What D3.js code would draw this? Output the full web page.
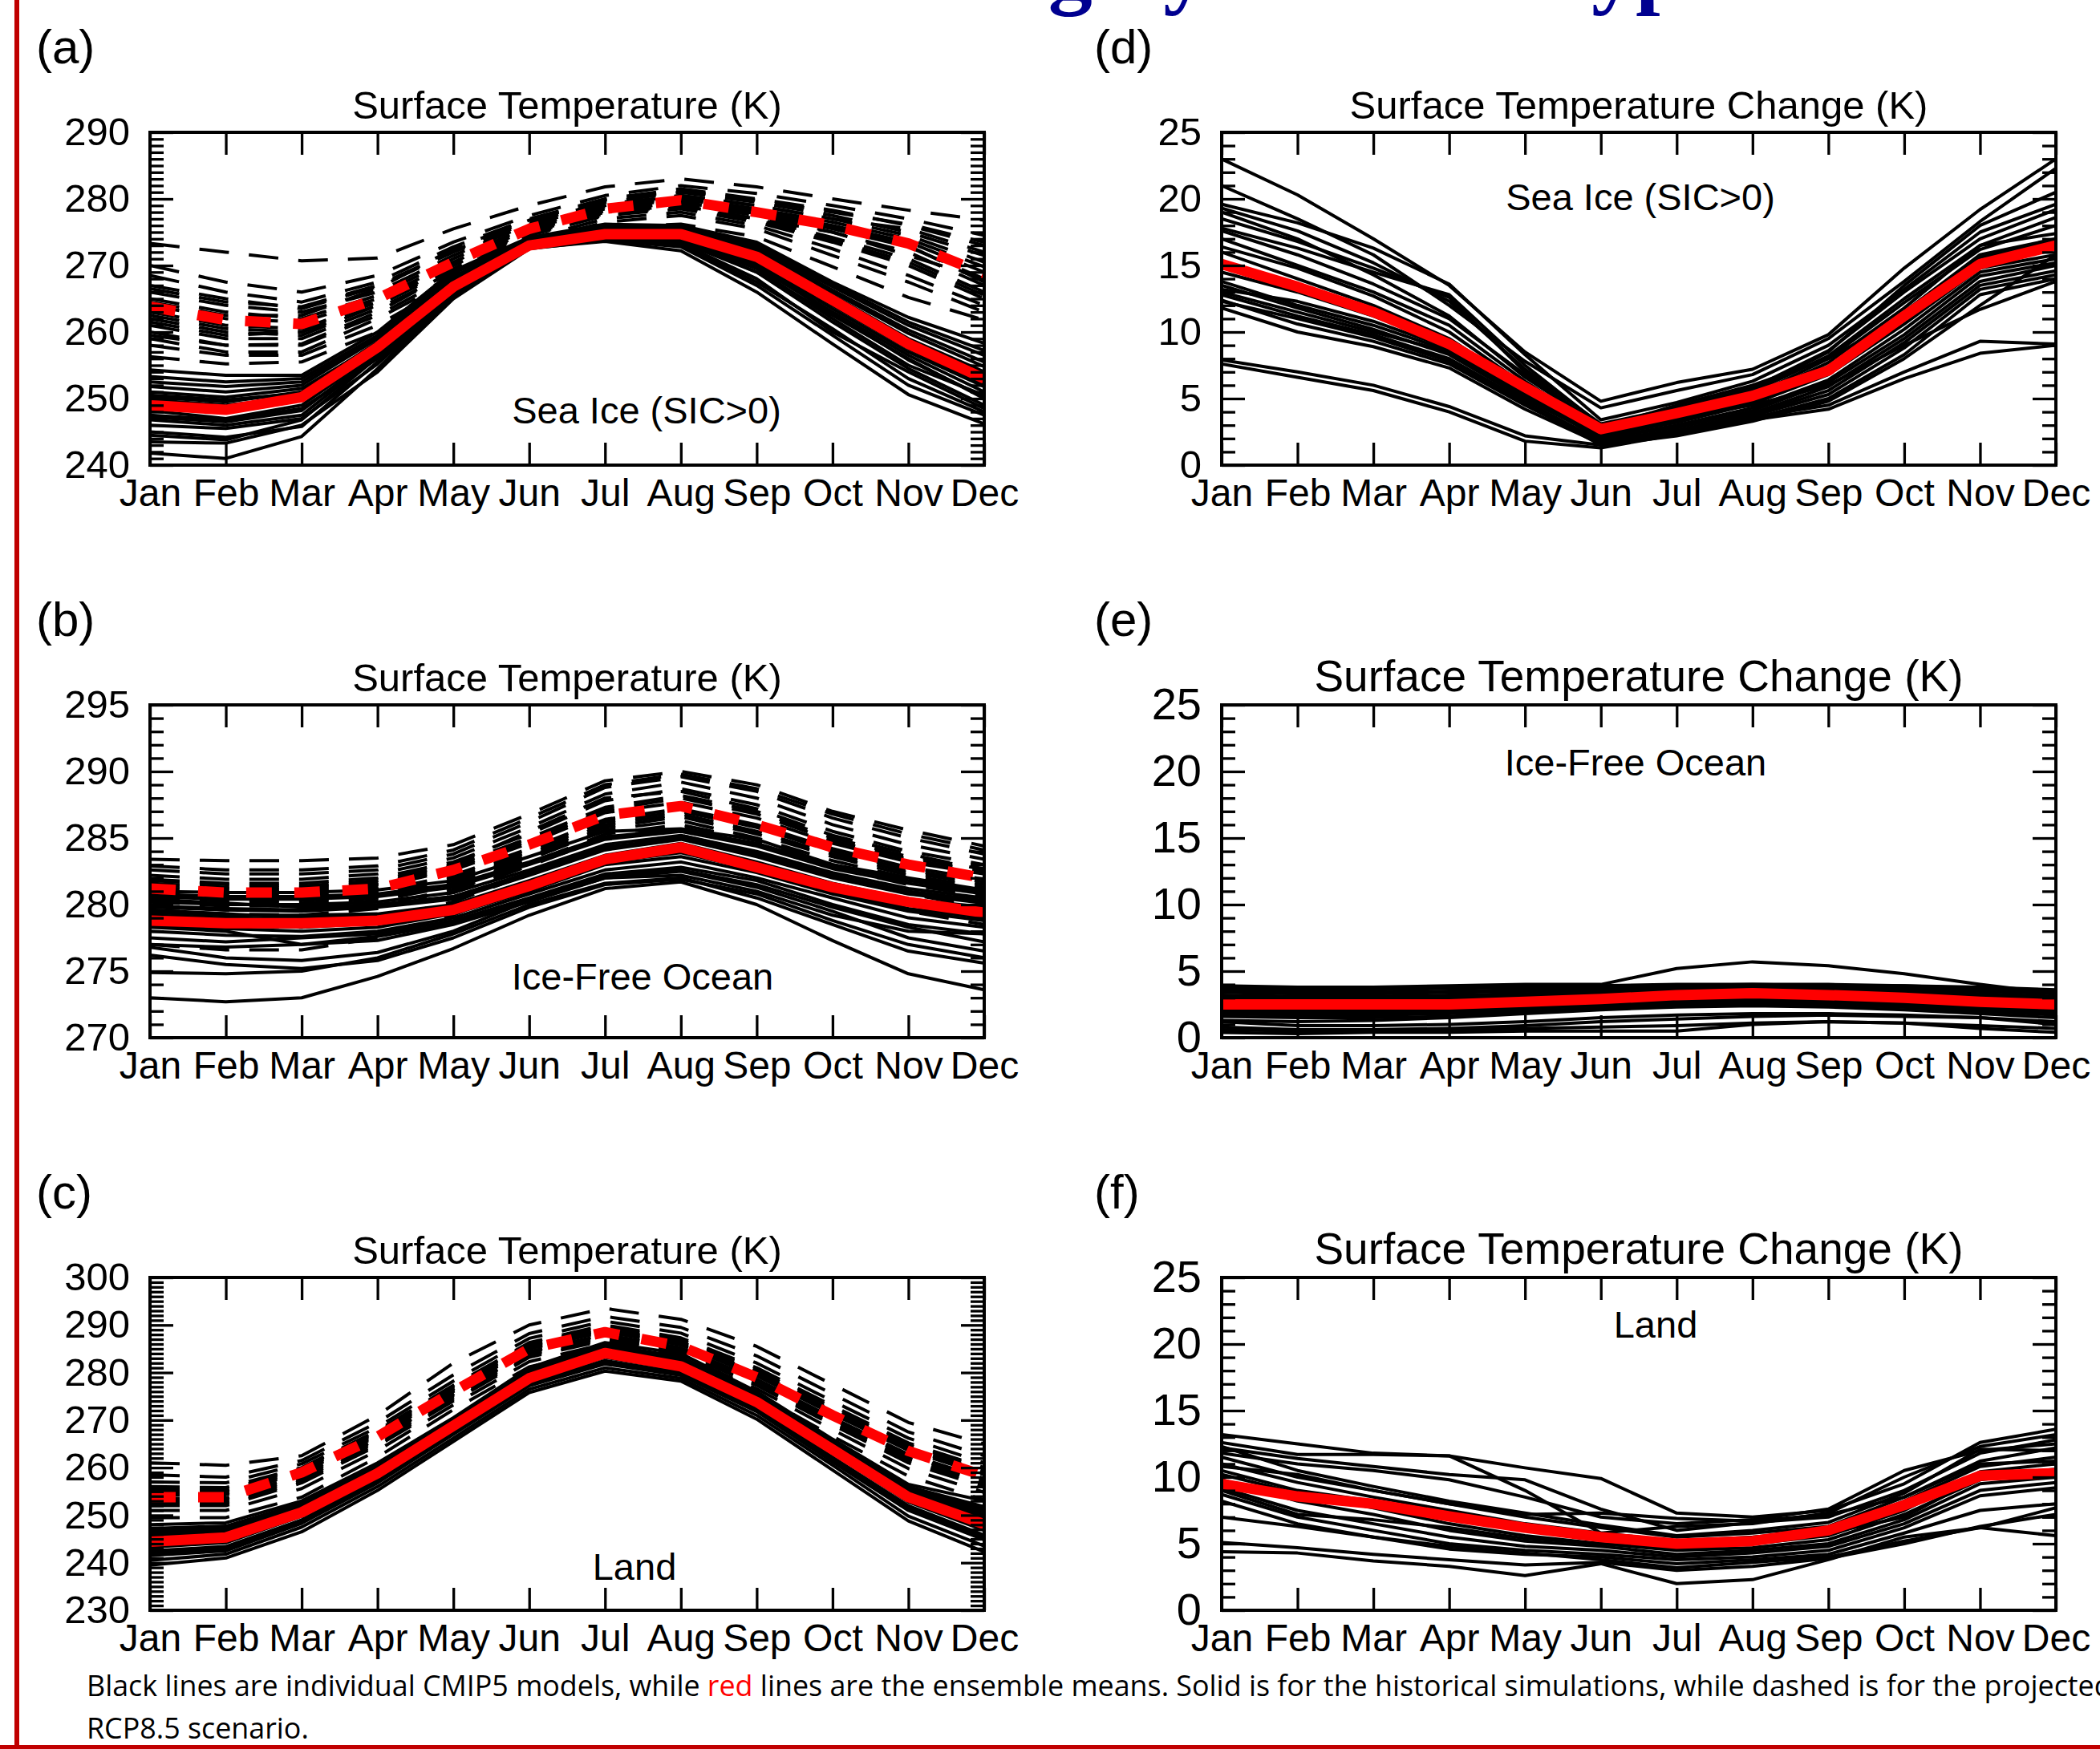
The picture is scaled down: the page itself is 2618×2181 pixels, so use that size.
<!DOCTYPE html>
<html>
<head>
<meta charset="utf-8">
<script src="https://cdn.jsdelivr.net/npm/d3@7"></script>
<style>
  html, body { margin: 0; padding: 0; background: #fff; overflow: hidden; }
  svg { display: block; }
  svg text { font-family: "Liberation Sans", Arial, sans-serif; }
</style>
</head>
<body>
<svg id="fig" width="2618" height="2181"></svg>
<script>
const months = ["Jan","Feb","Mar","Apr","May","Jun","Jul","Aug","Sep","Oct","Nov","Dec"];

// (a) sea ice, surface temperature (K)
const seaIceHist = [
  [241.8,241.0,244.3,254.5,265.5,272.6,273.6,272.2,266.0,258.2,250.6,246.2],
  [243.5,243.3,246.0,254.0,265.0,272.5,273.8,272.8,267.0,259.5,252.0,247.5],
  [245.0,244.2,245.8,255.5,266.0,272.8,274.0,273.3,268.0,260.0,254.0,248.5],
  [246.0,245.5,247.0,255.2,265.5,272.7,274.3,273.8,269.0,261.5,254.5,249.0],
  [246.8,246.0,247.5,256.5,266.2,273.0,274.5,274.0,269.5,262.0,255.0,250.5],
  [247.5,246.8,248.5,256.0,266.5,273.2,274.6,274.4,270.2,263.0,256.5,251.0],
  [248.2,247.0,249.0,257.0,267.0,273.3,274.8,274.5,270.5,263.5,257.0,251.8],
  [248.8,248.0,249.8,257.5,266.8,273.1,275.0,274.8,271.0,264.5,258.0,252.5],
  [249.5,248.8,250.5,258.0,267.3,273.4,275.2,275.0,271.5,265.0,258.5,253.5],
  [250.2,249.5,251.0,258.5,267.5,273.5,275.3,275.2,272.0,265.5,259.0,254.0],
  [251.0,250.2,251.5,258.2,267.8,273.6,275.5,275.3,272.3,266.0,259.8,254.8],
  [251.8,251.0,252.0,259.0,268.0,273.7,275.6,275.5,272.5,266.3,260.3,255.5],
  [252.5,251.8,252.5,259.3,268.3,273.8,275.8,275.6,272.8,266.8,261.0,256.5],
  [253.3,252.5,253.0,259.5,268.8,274.0,276.0,275.8,273.2,267.2,261.5,257.2],
  [254.3,253.5,253.5,260.0,269.2,274.2,276.2,276.0,273.5,267.5,262.2,258.3],
  [250.5,249.8,250.8,257.8,266.5,272.8,274.2,273.5,269.0,262.5,256.0,250.0],
  [244.5,243.8,246.8,256.2,266.2,273.0,274.4,273.0,267.5,260.5,253.0,248.0],
  [247.2,246.5,248.2,256.8,266.8,273.2,274.7,274.2,269.8,262.8,255.8,250.2],
  [249.8,249.0,250.2,257.2,267.0,273.3,275.0,274.6,270.8,264.0,257.5,252.0]
];
const seaIceHistMean = [249.0,248.3,250.2,257.7,266.8,273.0,274.7,274.7,271.3,264.8,258.2,253.0];
const seaIceRcp = [
  [273.3,272.0,270.7,271.1,275.5,279.0,281.8,283.0,281.8,280.0,278.3,276.8],
  [270.0,267.5,266.0,268.5,273.5,277.5,280.5,282.0,280.8,279.0,277.0,274.5],
  [268.5,266.0,264.5,267.5,272.8,277.0,280.0,281.5,280.0,278.3,276.0,273.0],
  [267.0,265.0,263.5,266.8,272.0,276.5,279.5,281.0,279.5,277.5,275.0,271.5],
  [266.0,264.0,263.0,266.0,271.5,276.2,279.0,280.5,279.0,277.0,274.5,270.5],
  [265.0,263.0,262.0,265.5,271.0,275.8,278.8,280.2,278.5,276.5,274.0,269.8],
  [264.0,262.0,261.5,265.0,270.5,275.5,278.5,280.0,278.2,276.0,273.5,269.0],
  [263.0,261.0,260.5,264.5,270.0,275.2,278.2,279.5,277.8,275.5,272.8,268.0],
  [262.0,260.0,259.5,264.0,269.5,275.0,278.0,279.2,277.5,275.0,272.0,267.0],
  [261.0,259.0,259.0,263.5,269.0,274.8,277.8,279.0,277.0,274.2,271.0,266.0],
  [260.0,258.0,258.0,262.5,268.5,274.5,277.5,278.5,276.5,273.5,270.0,265.0],
  [259.0,257.0,257.0,262.0,268.0,274.0,277.0,278.0,276.0,272.5,268.5,264.0],
  [258.0,256.5,256.5,261.0,267.5,273.5,276.5,277.5,275.5,271.5,267.5,263.0],
  [256.3,255.2,255.5,260.0,266.8,272.8,275.8,276.2,274.3,269.8,265.2,261.8],
  [264.5,262.5,262.5,266.5,272.5,276.8,279.2,280.5,279.0,277.0,275.5,272.0],
  [261.5,259.5,260.0,264.0,270.0,275.0,278.0,279.0,277.0,275.0,271.5,268.0],
  [266.5,264.5,263.8,267.0,272.2,276.8,279.8,281.2,279.8,278.0,276.2,273.5],
  [262.5,260.5,260.0,264.8,270.2,275.4,278.4,279.8,278.0,275.8,273.0,267.5],
  [259.5,258.0,258.2,263.0,269.2,274.6,277.6,278.8,276.8,273.8,270.5,265.5]
];
const seaIceRcpMean = [263.8,261.8,261.2,265.0,270.5,275.5,278.5,279.8,278.0,276.0,273.3,268.8];

// (b) ice-free ocean, surface temperature (K)
const oceanHist = [
  [273.0,272.7,273.0,274.6,276.7,279.2,281.2,281.7,280.0,277.3,274.8,273.6],
  [274.9,274.8,275.0,276.0,277.8,280.0,281.6,282.0,280.5,278.5,276.5,275.6],
  [276.8,276.0,275.8,276.4,278.0,280.3,282.0,282.5,281.3,279.5,277.5,276.5],
  [277.5,277.2,277.5,277.8,278.8,280.5,282.3,282.8,281.8,280.0,278.5,277.8],
  [278.0,277.7,277.6,278.0,279.0,280.8,282.6,283.2,282.0,280.5,279.0,278.3],
  [278.5,278.2,278.0,278.3,279.3,281.0,283.0,283.6,282.4,280.8,279.5,278.8],
  [279.0,278.8,278.7,278.9,279.7,281.4,283.4,284.2,282.8,281.2,280.0,279.3],
  [279.4,279.2,279.2,279.3,280.0,281.8,283.7,284.6,283.2,281.6,280.4,279.8],
  [279.8,279.6,279.5,279.8,280.4,282.2,284.1,284.9,283.6,282.0,280.8,280.1],
  [280.2,280.0,280.0,280.2,280.9,282.6,284.5,285.2,284.0,282.4,281.2,280.5],
  [280.6,280.4,280.4,280.6,281.3,283.0,284.9,285.5,284.4,282.7,281.6,280.8],
  [281.0,280.9,280.9,281.1,281.8,283.6,285.5,285.7,284.9,283.0,282.0,281.1],
  [278.3,278.0,277.0,277.3,278.5,280.2,282.0,282.2,281.0,279.2,278.0,277.8],
  [279.6,279.3,279.0,279.2,279.8,281.6,283.5,284.0,283.0,281.5,280.2,279.5],
  [280.4,280.1,279.8,280.0,280.6,282.4,284.3,285.0,283.8,282.2,281.0,280.3],
  [277.0,276.8,277.0,277.6,278.6,280.4,282.2,282.6,281.5,279.8,278.3,277.2],
  [279.2,279.0,278.9,279.1,279.9,281.6,283.6,284.4,283.0,281.4,280.2,279.6],
  [279.9,279.7,279.6,279.9,280.6,282.3,284.2,285.0,283.7,282.1,280.9,280.2],
  [280.8,280.6,280.6,280.8,281.5,283.2,285.1,285.6,284.6,282.9,281.8,281.0],
  [278.7,278.5,278.3,278.6,279.5,281.2,283.2,283.9,282.6,281.0,279.7,279.0],
  [276.2,275.5,275.2,275.8,277.5,279.8,281.5,281.9,280.8,278.8,277.0,276.0]
];
const oceanHistMean = [278.8,278.6,278.6,278.8,279.6,281.4,283.4,284.3,282.8,281.3,280.2,279.4];
const oceanRcp = [
  [283.4,283.3,283.3,283.5,284.5,286.8,289.3,290.0,289.0,287.0,285.6,284.4],
  [282.6,282.3,282.3,282.6,283.8,286.2,288.8,289.6,288.5,286.5,285.0,283.8],
  [282.2,281.9,281.9,282.3,283.5,285.8,288.3,289.2,288.0,286.0,284.5,283.4],
  [281.9,281.6,281.6,282.0,283.2,285.3,287.8,288.7,287.5,285.5,284.0,283.0],
  [281.6,281.3,281.3,281.6,282.9,285.0,287.3,288.2,287.0,285.0,283.6,282.7],
  [281.3,281.0,281.0,281.3,282.6,284.6,286.9,287.7,286.5,284.6,283.2,282.3],
  [281.0,280.7,280.7,281.0,282.2,284.2,286.4,287.2,286.0,284.2,282.8,281.9],
  [280.6,280.3,280.3,280.7,281.8,283.8,286.0,286.8,285.5,283.8,282.4,281.5],
  [280.2,279.9,279.9,280.3,281.4,283.4,285.6,286.3,285.0,283.3,282.0,281.1],
  [279.6,279.3,279.2,279.7,280.9,282.9,285.0,285.8,284.5,282.8,281.5,280.6],
  [278.8,278.4,278.3,278.9,280.2,282.3,284.4,285.2,283.9,282.2,280.8,279.8],
  [277.0,276.6,276.6,277.5,279.2,281.6,283.6,284.5,283.0,281.0,279.5,278.5],
  [281.8,281.5,281.4,281.8,283.0,285.5,288.0,288.5,287.2,285.2,283.8,282.6],
  [280.9,280.5,280.5,280.9,282.0,284.0,286.2,287.0,285.8,284.0,282.6,281.7],
  [282.9,282.6,282.6,282.9,284.1,286.5,289.0,289.8,288.7,286.8,285.3,284.1],
  [281.5,281.2,281.1,281.5,282.7,284.8,287.1,288.0,286.8,284.8,283.4,282.5],
  [280.4,280.1,280.1,280.5,281.6,283.6,285.8,286.6,285.3,283.6,282.2,281.3],
  [279.9,279.6,279.6,280.0,281.1,283.1,285.3,286.0,284.8,283.0,281.7,280.9]
];
const oceanRcpMean = [281.2,280.9,280.9,281.2,282.6,284.5,286.7,287.4,286.0,284.3,283.0,282.0];

// (c) land, surface temperature (K)
const landHist = [
  [239.5,241.0,246.5,255.2,265.5,275.8,280.3,278.2,270.2,259.5,248.8,242.3],
  [240.5,241.8,247.5,256.0,266.2,276.5,281.0,278.8,271.0,260.5,249.8,243.5],
  [241.5,242.5,248.3,256.8,267.0,277.2,281.8,279.4,271.8,261.2,251.0,244.8],
  [242.5,243.4,249.0,257.5,267.6,277.8,282.5,280.0,272.5,262.2,252.0,245.8],
  [243.3,244.2,249.8,258.2,268.2,278.3,283.2,280.6,273.2,263.0,252.8,246.8],
  [244.0,245.0,250.3,258.6,268.6,278.7,283.8,281.1,273.7,263.6,253.5,247.6],
  [244.8,245.6,250.8,259.0,269.0,279.1,284.3,281.5,274.2,264.2,254.2,248.6],
  [245.6,246.3,251.4,259.5,269.4,279.6,284.8,282.0,274.7,264.8,255.0,249.6],
  [246.4,247.0,252.0,260.0,269.8,280.1,285.3,282.6,275.2,265.3,255.6,250.8],
  [247.2,247.7,252.5,260.5,270.2,280.5,285.8,283.3,275.6,265.7,256.0,251.8],
  [248.0,248.4,253.0,261.0,270.5,281.0,286.3,284.0,276.0,266.0,256.5,253.0],
  [242.0,243.0,248.8,257.2,267.4,277.5,282.2,279.8,272.3,261.8,251.5,245.2],
  [245.2,246.0,251.0,259.3,269.2,279.4,284.6,281.8,274.4,264.5,254.6,249.1],
  [246.8,247.4,252.2,260.2,270.0,280.3,285.6,283.0,275.4,265.5,255.8,251.2],
  [243.8,244.6,250.0,258.4,268.4,278.5,283.5,280.8,273.4,263.3,253.2,247.2],
  [245.9,246.6,251.6,259.7,269.6,279.8,285.0,282.3,275.0,265.0,255.3,250.2]
];
const landHistMean = [244.4,245.3,250.6,258.8,268.8,278.8,284.1,281.3,273.8,263.8,253.8,248.1];
const landRcp = [
  [261.0,260.5,262.5,271.0,282.0,290.0,293.5,291.2,285.5,277.5,269.5,265.0],
  [258.5,258.0,261.5,269.5,279.5,288.2,291.8,289.5,283.5,275.5,267.5,262.5],
  [257.0,256.8,260.8,268.5,278.2,287.2,290.8,288.3,282.0,274.0,266.2,261.0],
  [256.0,255.8,260.0,267.8,277.3,286.3,290.0,287.3,281.0,273.0,265.2,260.0],
  [255.0,255.0,259.5,267.2,276.6,285.6,289.2,286.5,280.0,272.0,264.3,259.2],
  [254.2,254.3,259.0,266.6,276.0,285.0,288.6,285.8,279.3,271.3,263.6,258.5],
  [253.5,253.6,258.5,266.0,275.4,284.4,288.0,285.2,278.6,270.5,262.8,257.7],
  [252.8,252.8,257.6,265.4,274.8,283.8,287.4,284.7,278.0,269.8,262.0,256.8],
  [252.0,252.0,256.8,264.6,274.0,283.2,286.8,284.2,277.3,269.0,261.0,256.0],
  [251.0,251.0,255.6,263.6,273.2,282.3,286.0,283.6,276.6,268.0,259.8,254.8],
  [249.5,249.5,253.8,262.2,272.2,281.2,285.0,283.0,275.6,266.6,258.2,253.2],
  [255.5,255.3,259.8,267.5,277.0,286.0,289.6,287.0,280.5,272.6,264.8,259.8],
  [253.0,253.2,258.0,265.8,275.2,284.2,287.8,285.0,278.3,270.2,262.4,257.3],
  [254.6,254.6,259.2,266.9,276.3,285.3,288.9,286.2,279.7,271.7,264.0,258.8],
  [252.4,252.4,257.2,265.0,274.4,283.5,287.1,284.5,277.6,269.4,261.5,256.4]
];
const landRcpMean = [253.8,253.8,259.0,266.5,276.0,285.0,288.5,285.5,279.0,271.0,263.5,258.3];

// (d) sea ice, change (K)
const seaIceChange = [
  [23.0,20.3,17.0,13.5,8.5,4.8,6.2,7.2,9.8,14.8,19.2,23.0],
  [21.0,18.5,15.8,12.0,7.8,4.3,5.6,6.8,9.5,13.8,18.3,22.3],
  [19.6,18.2,16.3,13.6,8.3,3.4,4.7,6.3,9.0,13.2,17.5,19.6],
  [19.3,17.6,15.2,12.3,7.2,3.1,4.3,5.8,8.6,13.0,17.0,19.2],
  [19.0,17.0,14.3,11.2,6.6,2.9,4.0,5.5,8.2,12.5,16.5,18.6],
  [17.6,15.8,13.6,11.0,6.8,2.7,3.8,5.2,8.0,12.2,16.2,18.0],
  [17.0,15.0,13.0,10.5,6.3,2.6,3.6,5.0,7.7,11.8,16.5,17.4],
  [16.4,14.8,12.7,10.0,6.0,2.4,3.5,4.9,7.4,11.5,15.8,17.0],
  [16.0,14.0,12.0,9.5,5.8,2.3,3.3,4.7,7.1,11.0,15.2,16.3],
  [14.5,13.0,11.2,9.0,5.5,2.2,3.2,4.6,6.8,10.6,14.8,15.8],
  [13.8,12.0,10.5,8.6,5.3,2.0,3.0,4.3,6.4,10.2,14.5,15.5],
  [13.5,11.8,10.2,8.3,5.0,2.1,2.8,4.1,6.2,9.8,14.2,15.2],
  [13.2,12.3,10.8,8.8,5.4,1.9,2.6,3.9,5.9,9.5,13.8,15.0],
  [12.8,11.2,9.8,8.0,4.8,1.8,2.5,3.8,5.6,9.2,13.5,14.6],
  [12.4,10.6,9.3,7.6,4.5,1.7,2.4,3.7,5.3,8.8,13.2,14.3],
  [11.8,10.0,8.9,7.3,4.2,1.6,2.3,3.5,5.0,8.3,12.8,14.0],
  [13.0,11.5,10.0,8.5,5.2,2.4,3.6,4.5,6.0,9.0,11.7,13.8],
  [7.6,6.6,5.6,4.0,1.8,1.3,2.3,3.4,4.2,6.5,8.4,9.0],
  [7.9,7.0,6.0,4.4,2.2,1.5,2.6,3.6,4.5,7.0,9.3,9.1],
  [17.8,16.3,14.5,12.8,7.5,3.0,4.2,5.6,8.5,13.5,18.0,20.5],
  [18.5,16.8,14.8,12.6,7.0,2.8,4.5,6.0,8.0,11.2,15.6,16.8],
  [12.3,11.0,9.6,7.8,4.6,1.5,2.2,3.3,4.8,8.0,12.0,15.8]
];
const seaIceChangeMean = [15.1,13.4,11.5,9.1,5.85,2.7,3.9,5.2,7.1,11.2,15.1,16.5];

// (e) ice-free ocean, change (K)
const oceanChange = [
  [3.9,3.8,3.8,3.9,4.0,4.0,5.2,5.7,5.4,4.8,4.0,3.3],
  [3.8,3.7,3.7,3.8,3.9,3.8,3.9,4.0,3.9,3.9,3.8,3.6],
  [3.5,3.4,3.4,3.5,3.6,3.7,3.8,3.9,3.8,3.7,3.6,3.4],
  [3.2,3.1,3.1,3.2,3.3,3.5,3.7,3.8,3.7,3.5,3.3,3.1],
  [3.0,2.9,2.9,3.0,3.1,3.3,3.5,3.6,3.5,3.3,3.1,2.9],
  [2.8,2.7,2.7,2.8,2.9,3.1,3.4,3.5,3.4,3.2,2.9,2.7],
  [2.3,2.2,2.2,2.3,2.5,2.7,3.0,3.2,3.1,2.9,2.5,2.3],
  [2.1,2.0,2.0,2.1,2.3,2.6,2.9,3.0,2.9,2.7,2.4,2.2],
  [1.9,1.9,1.9,2.0,2.2,2.4,2.7,2.8,2.7,2.5,2.2,2.0],
  [1.8,1.7,1.7,1.8,2.0,2.2,2.5,2.6,2.5,2.3,2.0,1.9],
  [1.3,1.2,1.3,1.5,1.8,2.1,2.3,2.4,2.3,2.1,1.8,1.5],
  [1.2,0.9,0.9,1.0,1.2,1.5,1.7,1.8,1.8,1.7,1.5,1.2],
  [0.8,0.6,0.6,0.7,0.9,1.2,1.4,1.6,1.7,1.6,1.5,1.0],
  [0.4,0.3,0.4,0.4,0.5,0.5,0.5,1.0,1.2,1.1,0.7,0.4],
  [0.6,0.5,0.5,0.6,0.7,0.8,0.9,1.1,1.2,1.1,0.9,0.7],
  [2.6,2.5,2.5,2.6,2.8,3.0,3.2,3.3,3.2,3.0,2.8,2.6],
  [3.6,3.5,3.6,3.8,3.9,3.9,4.0,4.0,4.0,3.9,3.7,3.5],
  [3.7,3.6,3.6,3.7,3.8,3.8,3.9,3.9,3.9,3.8,3.7,3.5],
  [3.4,3.3,3.3,3.4,3.5,3.6,3.7,3.7,3.7,3.6,3.5,3.3],
  [3.1,3.0,3.0,3.1,3.2,3.4,3.6,3.7,3.6,3.4,3.2,3.0],
  [2.9,2.8,2.8,2.9,3.0,3.2,3.4,3.6,3.5,3.3,3.0,2.8],
  [2.7,2.6,2.6,2.7,2.8,3.0,3.3,3.4,3.3,3.1,2.9,2.7],
  [2.4,2.3,2.3,2.4,2.6,2.8,3.1,3.3,3.2,3.0,2.7,2.4],
  [2.2,2.1,2.1,2.2,2.4,2.7,3.0,3.1,3.0,2.8,2.5,2.3],
  [2.0,1.9,1.9,2.0,2.2,2.5,2.8,2.9,2.8,2.6,2.3,2.1],
  [1.6,1.5,1.5,1.6,1.9,2.2,2.5,2.6,2.5,2.3,2.0,1.7]
];
const oceanChangeMean = [2.5,2.5,2.5,2.5,2.7,2.9,3.2,3.35,3.2,3.0,2.7,2.5];

// (f) land, change (K)
const landChange = [
  [13.2,12.5,11.8,11.6,10.7,9.9,7.3,7.0,7.5,9.5,12.6,13.6],
  [12.6,11.7,11.7,11.6,9.0,5.8,6.3,6.5,7.3,10.0,12.3,13.2],
  [12.2,11.4,10.8,10.2,9.8,7.6,6.0,6.6,7.0,9.0,11.8,12.8],
  [11.5,10.0,9.0,8.0,7.0,6.2,5.5,5.8,6.3,8.5,11.2,12.2],
  [11.0,9.6,8.5,7.5,6.5,5.8,5.2,5.5,6.0,8.2,10.8,11.5],
  [10.5,9.0,8.2,7.0,6.0,5.5,4.8,5.0,5.6,7.5,10.4,11.0],
  [10.2,8.8,7.7,6.5,5.6,5.0,4.5,4.7,5.3,7.2,9.8,10.5],
  [9.8,8.2,7.2,6.0,5.2,4.8,4.2,4.5,5.0,6.8,9.5,10.0],
  [9.2,7.5,6.5,5.5,4.8,4.5,4.0,4.3,4.8,6.5,9.0,9.6],
  [8.7,7.0,6.0,5.0,4.5,4.2,3.8,4.0,4.5,6.2,8.6,9.2],
  [8.2,6.5,5.5,4.6,4.2,4.0,3.5,3.8,4.2,5.8,7.5,8.0],
  [7.0,6.3,5.5,4.8,4.3,3.8,3.2,3.6,4.0,5.2,6.2,7.7],
  [5.1,4.7,4.2,3.8,3.4,3.6,3.0,3.3,3.9,5.0,6.3,7.2],
  [4.4,4.3,3.7,3.3,2.6,3.5,2.0,2.3,3.8,5.5,6.2,5.6],
  [10.8,10.2,9.0,8.0,7.2,7.3,6.9,6.7,7.2,8.5,11.0,11.2],
  [11.8,11.0,10.5,9.8,8.5,7.0,6.5,6.8,7.6,10.5,12.0,12.5],
  [9.0,7.2,6.8,6.2,5.4,5.0,4.6,5.0,5.8,7.0,10.0,10.6],
  [12.3,10.5,9.3,8.2,7.3,6.4,5.6,6.0,6.6,8.8,12.1,12.0]
];
const landChangeMean = [9.5,8.55,8.0,7.05,6.2,5.5,5.0,5.2,6.0,7.9,10.1,10.3];

// layout
const colX = [187, 1523];
const rowY = [165, 879, 1593];
const plotW = 1040, plotH = 415;

const panels = [
  {id:"a", tag:"(a)", col:0, row:0, domain:[240,290], step:10, title:"Surface Temperature (K)", titleSize:49, tickFont:49,
   note:"Sea Ice (SIC>0)", noteX:806, noteDy:363, hist:seaIceHist, histMean:seaIceHistMean, rcp:seaIceRcp, rcpMean:seaIceRcpMean},
  {id:"b", tag:"(b)", col:0, row:1, domain:[270,295], step:5, title:"Surface Temperature (K)", titleSize:49, tickFont:49,
   note:"Ice-Free Ocean", noteX:801, noteDy:355, hist:oceanHist, histMean:oceanHistMean, rcp:oceanRcp, rcpMean:oceanRcpMean},
  {id:"c", tag:"(c)", col:0, row:2, domain:[230,300], step:10, title:"Surface Temperature (K)", titleSize:49, tickFont:49,
   note:"Land", noteX:791, noteDy:377, hist:landHist, histMean:landHistMean, rcp:landRcp, rcpMean:landRcpMean},
  {id:"d", tag:"(d)", col:1, row:0, domain:[0,25], step:5, title:"Surface Temperature Change (K)", titleSize:49, tickFont:49,
   note:"Sea Ice (SIC>0)", noteX:2045, noteDy:97, hist:seaIceChange, histMean:seaIceChangeMean},
  {id:"e", tag:"(e)", col:1, row:1, domain:[0,25], step:5, title:"Surface Temperature Change (K)", titleSize:55, tickFont:56,
   note:"Ice-Free Ocean", noteX:2039, noteDy:88, hist:oceanChange, histMean:oceanChangeMean},
  {id:"f", tag:"(f)", col:1, row:2, domain:[0,25], step:5, title:"Surface Temperature Change (K)", titleSize:55, tickFont:56,
   note:"Land", noteX:2064, noteDy:75, hist:landChange, histMean:landChangeMean}
];

const svg = d3.select("#fig");
svg.append("rect").attr("width", 2618).attr("height", 2181).attr("fill", "#fff");

// slide heading, cut off by the top edge so only descenders show
svg.append("text")
  .attr("x", 2149).attr("y", -3)
  .attr("text-anchor", "end")
  .style("font-family", "'Liberation Serif', 'Times New Roman', serif")
  .style("font-weight", "bold")
  .attr("font-size", 110)
  .attr("fill", "#000090")
  .text("Seasonal Warming by Surface Type");

const defs = svg.append("defs");

function tidy(sel, w) {
  sel.select(".domain").remove();
  sel.selectAll("line").attr("stroke", "#000").attr("stroke-width", w);
}

panels.forEach(p => {
  const x0 = colX[p.col], y0 = rowY[p.row];
  const x1 = x0 + plotW, y1 = y0 + plotH;
  const x = d3.scalePoint().domain(months).range([x0, x1]);
  const y = d3.scaleLinear().domain(p.domain).range([y1, y0]);
  const g = svg.append("g").attr("id", "panel-" + p.id);

  defs.append("clipPath").attr("id", "clip-" + p.id)
    .append("rect").attr("x", x0).attr("y", y0).attr("width", plotW).attr("height", plotH);

  const line = d3.line().x((d, i) => x(months[i])).y(d => y(d));
  const plot = g.append("g").attr("clip-path", "url(#clip-" + p.id + ")")
    .attr("fill", "none").attr("stroke-linejoin", "round");

  plot.selectAll("path.hist").data(p.hist).join("path")
    .attr("class", "hist").attr("d", line)
    .attr("stroke", "#000").attr("stroke-width", 4);
  if (p.rcp) {
    plot.selectAll("path.rcp").data(p.rcp).join("path")
      .attr("class", "rcp").attr("d", line)
      .attr("stroke", "#000").attr("stroke-width", 4)
      .attr("stroke-dasharray", "37,25");
  }
  plot.append("path").datum(p.histMean).attr("d", line)
    .attr("stroke", "#ff0000").attr("stroke-width", 13);
  if (p.rcpMean) {
    plot.append("path").datum(p.rcpMean).attr("d", line)
      .attr("stroke", "#ff0000").attr("stroke-width", 13)
      .attr("stroke-dasharray", "32,28");
  }

  // ticks, all pointing inwards
  const majors = d3.range(p.domain[0], p.domain[1] + 0.5, p.step);
  const minors = d3.range(p.domain[0], p.domain[1] + 0.5, 1).filter(v => !majors.includes(v));

  g.append("g").attr("transform", `translate(${x0},0)`)
    .call(d3.axisRight(y).tickValues(majors).tickSize(29).tickFormat(""))
    .call(s => tidy(s, 3.3));
  g.append("g").attr("transform", `translate(${x0},0)`)
    .call(d3.axisRight(y).tickValues(minors).tickSize(17).tickFormat(""))
    .call(s => tidy(s, 3.3));
  g.append("g").attr("transform", `translate(${x1},0)`)
    .call(d3.axisLeft(y).tickValues(majors).tickSize(29).tickFormat(""))
    .call(s => tidy(s, 3.3));
  g.append("g").attr("transform", `translate(${x1},0)`)
    .call(d3.axisLeft(y).tickValues(minors).tickSize(17).tickFormat(""))
    .call(s => tidy(s, 3.3));
  g.append("g").attr("transform", `translate(0,${y0})`)
    .call(d3.axisBottom(x).tickSize(28).tickFormat(""))
    .call(s => tidy(s, 3.3));
  g.append("g").attr("transform", `translate(0,${y1})`)
    .call(d3.axisTop(x).tickSize(28).tickFormat(""))
    .call(s => tidy(s, 3.3));

  g.append("rect").attr("x", x0).attr("y", y0).attr("width", plotW).attr("height", plotH)
    .attr("fill", "none").attr("stroke", "#000").attr("stroke-width", 4);

  // tick labels
  const yl = g.append("g").attr("transform", `translate(${x0},0)`)
    .call(d3.axisLeft(y).tickValues(majors).tickSize(0).tickPadding(25).tickFormat(d3.format("d")));
  yl.select(".domain").remove();
  yl.attr("font-family", null).attr("font-size", p.tickFont);
  yl.selectAll("text").attr("fill", "#000");

  const xl = g.append("g").attr("transform", `translate(0,${y1})`)
    .call(d3.axisBottom(x).tickSize(0).tickPadding(17));
  xl.select(".domain").remove();
  xl.attr("font-family", null).attr("font-size", 48);
  xl.selectAll("text").attr("fill", "#000");

  // titles and notes
  g.append("text").attr("x", (x0 + x1) / 2).attr("y", y0 - 17)
    .attr("text-anchor", "middle").attr("font-size", p.titleSize).text(p.title);
  g.append("text").attr("x", p.noteX).attr("y", y0 + p.noteDy)
    .attr("text-anchor", "middle").attr("font-size", 47).text(p.note);
  g.append("text").attr("x", p.col === 0 ? 45 : 1364).attr("y", y0 - 86)
    .attr("font-size", 60).text(p.tag);
});

// caption
const capFont = "'Open Sans', 'Noto Sans', sans-serif";
const cap = svg.append("text").attr("x", 108).attr("y", 2115)
  .style("font-family", capFont).attr("font-size", 30).attr("fill", "#000");
cap.append("tspan").text("Black lines are individual CMIP5 models, while ");
cap.append("tspan").attr("fill", "#ff0000").text("red");
cap.append("tspan").text(" lines are the ensemble means. Solid is for the historical simulations, while dashed is for the projected");
const capSize = 30 * 2525 / cap.node().getComputedTextLength();
cap.attr("font-size", capSize);
svg.append("text").attr("x", 108).attr("y", 2168)
  .style("font-family", capFont).attr("font-size", capSize).attr("fill", "#000")
  .text("RCP8.5 scenario.");

// red slide border
svg.append("rect").attr("x", 18).attr("y", 0).attr("width", 6).attr("height", 2181).attr("fill", "#c00000");
svg.append("rect").attr("x", 0).attr("y", 2176).attr("width", 2618).attr("height", 5).attr("fill", "#c00000");
</script>
</body>
</html>
